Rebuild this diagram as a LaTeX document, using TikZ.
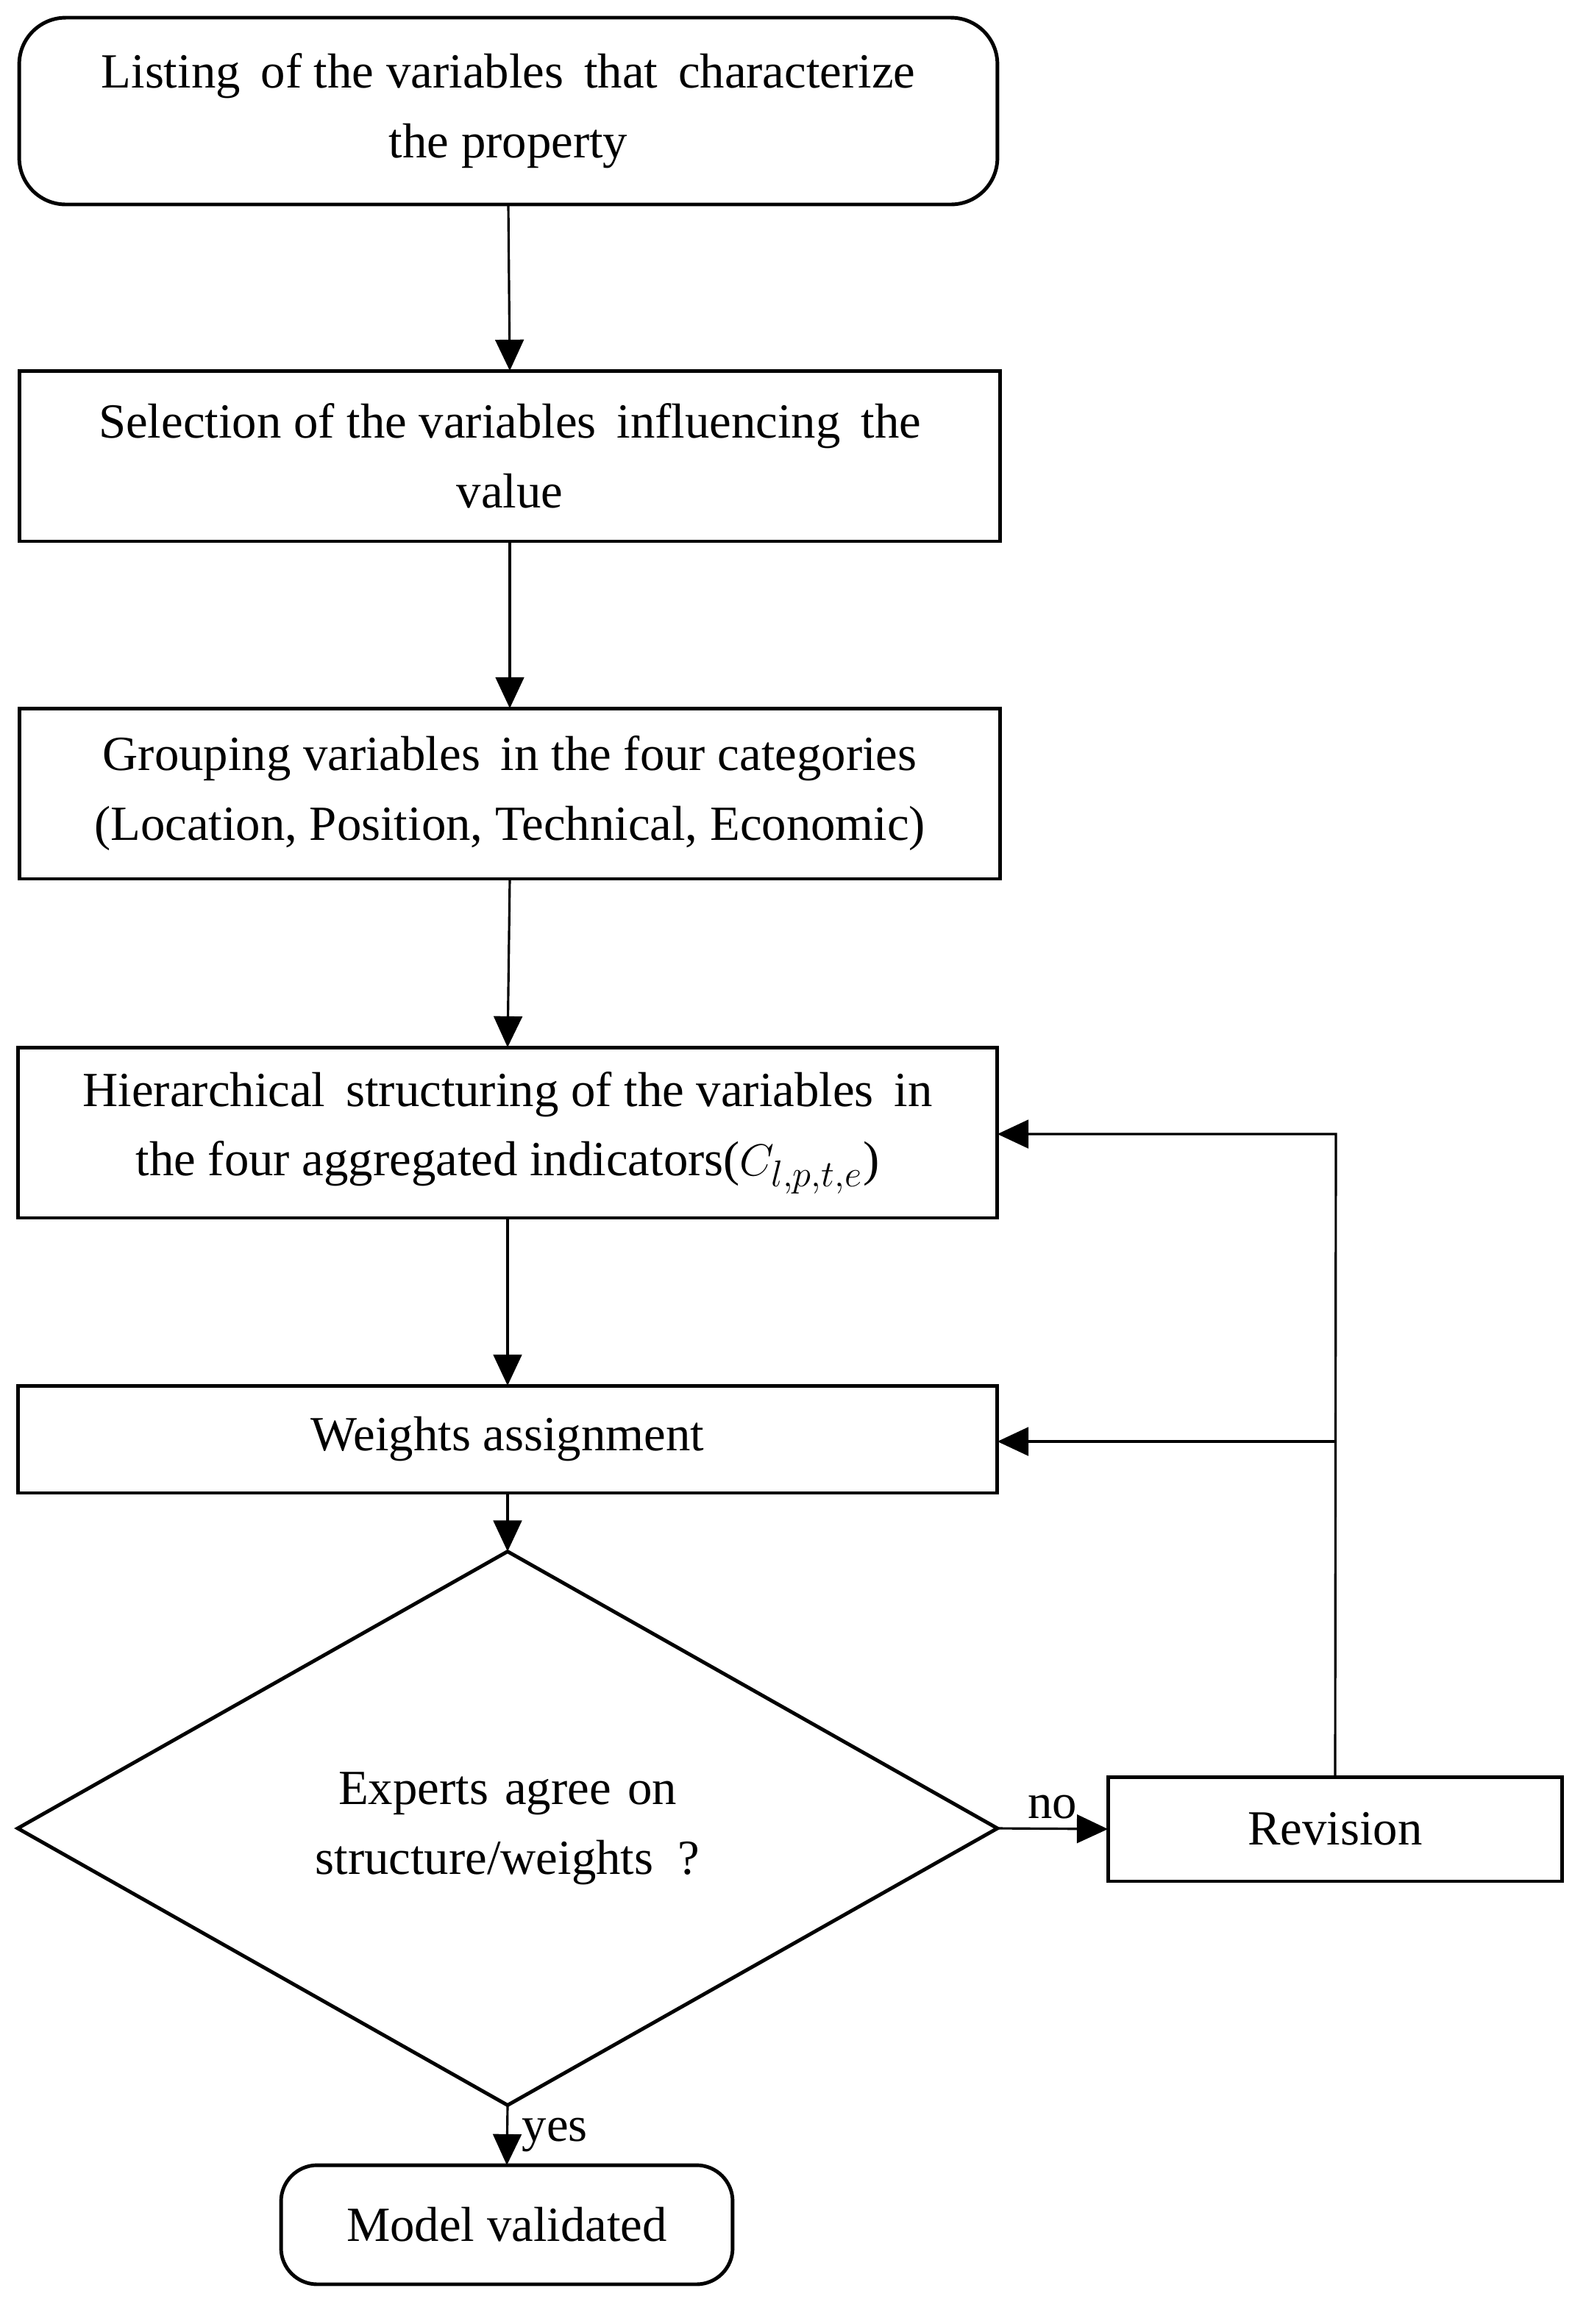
\documentclass[tikz,border=0pt]{standalone}
\usepackage{fontspec}
\setmainfont{Liberation Serif}
\usetikzlibrary{shapes.geometric,arrows.meta}
\begin{document}
\begin{tikzpicture}[x=0.02cm,y=-0.02cm,
  box/.style={draw,line width=1.4pt,inner sep=0pt,outer sep=0pt,align=center,font=\fontsize{19}{27}\selectfont},
  arr/.style={line width=0.9pt,-{Triangle[length=12pt,width=11pt]}},
  lbl/.style={font=\fontsize{19}{27}\selectfont}]
\useasboundingbox (0,0) rectangle (1078,1580);
\node[box,rounded corners=18pt,minimum width=13.3cm,minimum height=2.54cm] (b1) at (345.5,75.5) {Listing\, of the variables\, that\, characterize\\the property};
\node[box,minimum width=13.34cm,minimum height=2.32cm] (b2) at (346.5,310) {Selection of the variables\, influencing\, the\\value};
\node[box,minimum width=13.34cm,minimum height=2.32cm] (b3) at (346.5,539.5) {Grouping variables\, in the four categories\\(Location, Position, Technical, Economic)};
\node[box,minimum width=13.32cm,minimum height=2.32cm] (b4) at (345,770) {Hierarchical\, structuring of the variables\, in\\the four aggregated indicators($C_{l,p,t,e}$)};
\node[box,minimum width=13.32cm,minimum height=1.46cm] (b5) at (345,978.5) {Weights assignment};
\node[box,diamond,minimum width=13.32cm,minimum height=4.6cm,text width=6cm] (d) at (345,1243) {Experts agree on\\structure/weights\, ?};
\node[box,minimum width=6.18cm,minimum height=1.42cm] (rev) at (907.5,1243.5) {Revision};
\node[box,rounded corners=14pt,minimum width=6.14cm,minimum height=1.62cm] (m) at (344.5,1512.5) {Model validated};
\draw[arr] (b1.south) -- (b2.north);
\draw[arr] (b2.south) -- (b3.north);
\draw[arr] (b3.south) -- (b4.north);
\draw[arr] (b4.south) -- (b5.north);
\draw[arr] (b5.south) -- (d.north);
\draw[arr] (d.south) -- node[lbl,right=2pt]{yes} (m.north);
\draw[arr] (d.east) -- node[lbl,above]{no} (rev.west);
\coordinate (t) at (908,771);
\coordinate (t2) at (908,980);
\draw[arr] (rev.north) -- (t) -- (b4.east|-t);
\draw[arr] (t2) -- (b5.east|-t2);
\end{tikzpicture}
\end{document}
